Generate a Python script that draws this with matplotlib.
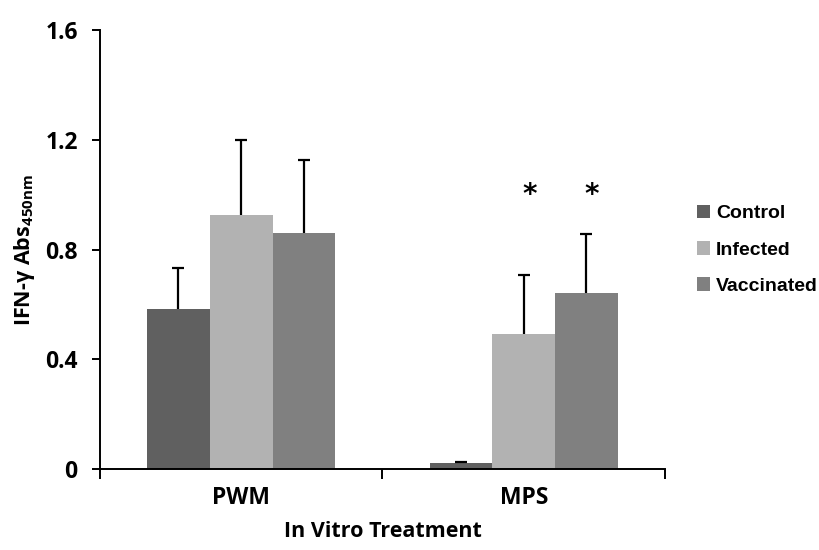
import matplotlib
matplotlib.use("Agg")
import matplotlib.pyplot as plt
import numpy as np

plt.rcParams['font.family'] = ['Open Sans', 'DejaVu Sans']
plt.rcParams['mathtext.fontset'] = 'custom'
plt.rcParams['mathtext.rm'] = 'Open Sans'
plt.rcParams['mathtext.bf'] = 'Open Sans:bold'
plt.rcParams['mathtext.it'] = 'Open Sans:italic'

treatments = ['PWM', 'MPS']
groups = ['Control', 'Infected', 'Vaccinated']
means = {
    'Control': [0.585, 0.022],
    'Infected': [0.928, 0.493],
    'Vaccinated': [0.860, 0.642],
}
errors = {
    'Control': [0.150, 0.004],
    'Infected': [0.271, 0.215],
    'Vaccinated': [0.267, 0.215],
}
signif = {
    'Control': ['', ''],
    'Infected': ['', '*'],
    'Vaccinated': ['', '*'],
}
colors = {'Control': '#606060', 'Infected': '#b2b2b2', 'Vaccinated': '#808080'}

fig = plt.figure(figsize=(8.19, 5.5), dpi=100)
ax = fig.add_axes([0.122, 0.147, 0.690, 0.798])

x = np.arange(len(treatments))
width = 0.222
for i, g in enumerate(groups):
    pos = x + (i - 1) * width
    ax.bar(pos, means[g], width, color=colors[g], label=g, zorder=2)
    eb = ax.errorbar(pos, means[g], yerr=[np.zeros(len(x)), errors[g]], fmt='none',
                     ecolor='black', elinewidth=1.6, capsize=4, capthick=1.6, zorder=3)
    eb[1][0].set_visible(False)  # drop the lower cap
    for p, s in zip(pos, signif[g]):
        if s:
            ax.text(p + 0.02, 1.0, s, ha='center', va='center', fontsize=20,
                    fontweight='bold', family=['DejaVu Sans'])

ax.set_xlim(-0.5, 1.5)
ax.set_ylim(0, 1.6)
ax.set_yticks([0, 0.4, 0.8, 1.2, 1.6])
ax.set_yticklabels(['0', '0.4', '0.8', '1.2', '1.6'], fontsize=16.5, fontweight='bold')
ax.set_xticks(x)
ax.set_xticklabels(treatments, fontsize=16.5, fontweight='bold')
ax.set_xticks([-0.5, 0.5, 1.5], minor=True)
ax.tick_params(axis='x', which='major', length=0, pad=12)
ax.tick_params(axis='x', which='minor', length=7, width=1.4, direction='out')
ax.tick_params(axis='y', length=6, width=1.4, direction='out', pad=10)

for s in ['top', 'right']:
    ax.spines[s].set_visible(False)
for s in ['left', 'bottom']:
    ax.spines[s].set_linewidth(1.4)

ax.set_xlabel('In Vitro Treatment', fontsize=15.5, fontweight='bold', labelpad=8)
ax.set_ylabel(r'IFN-γ Abs$_{\mathbf{450nm}}$', fontsize=15.5, fontweight='bold', labelpad=6)

leg = ax.legend(loc='center left', bbox_to_anchor=(1.025, 0.5), frameon=False,
                prop={'family': 'Liberation Sans', 'weight': 'bold', 'size': 14},
                handlelength=0.7, handleheight=0.7, handletextpad=0.3,
                labelspacing=0.95)

fig.savefig('out.png', dpi=100)
